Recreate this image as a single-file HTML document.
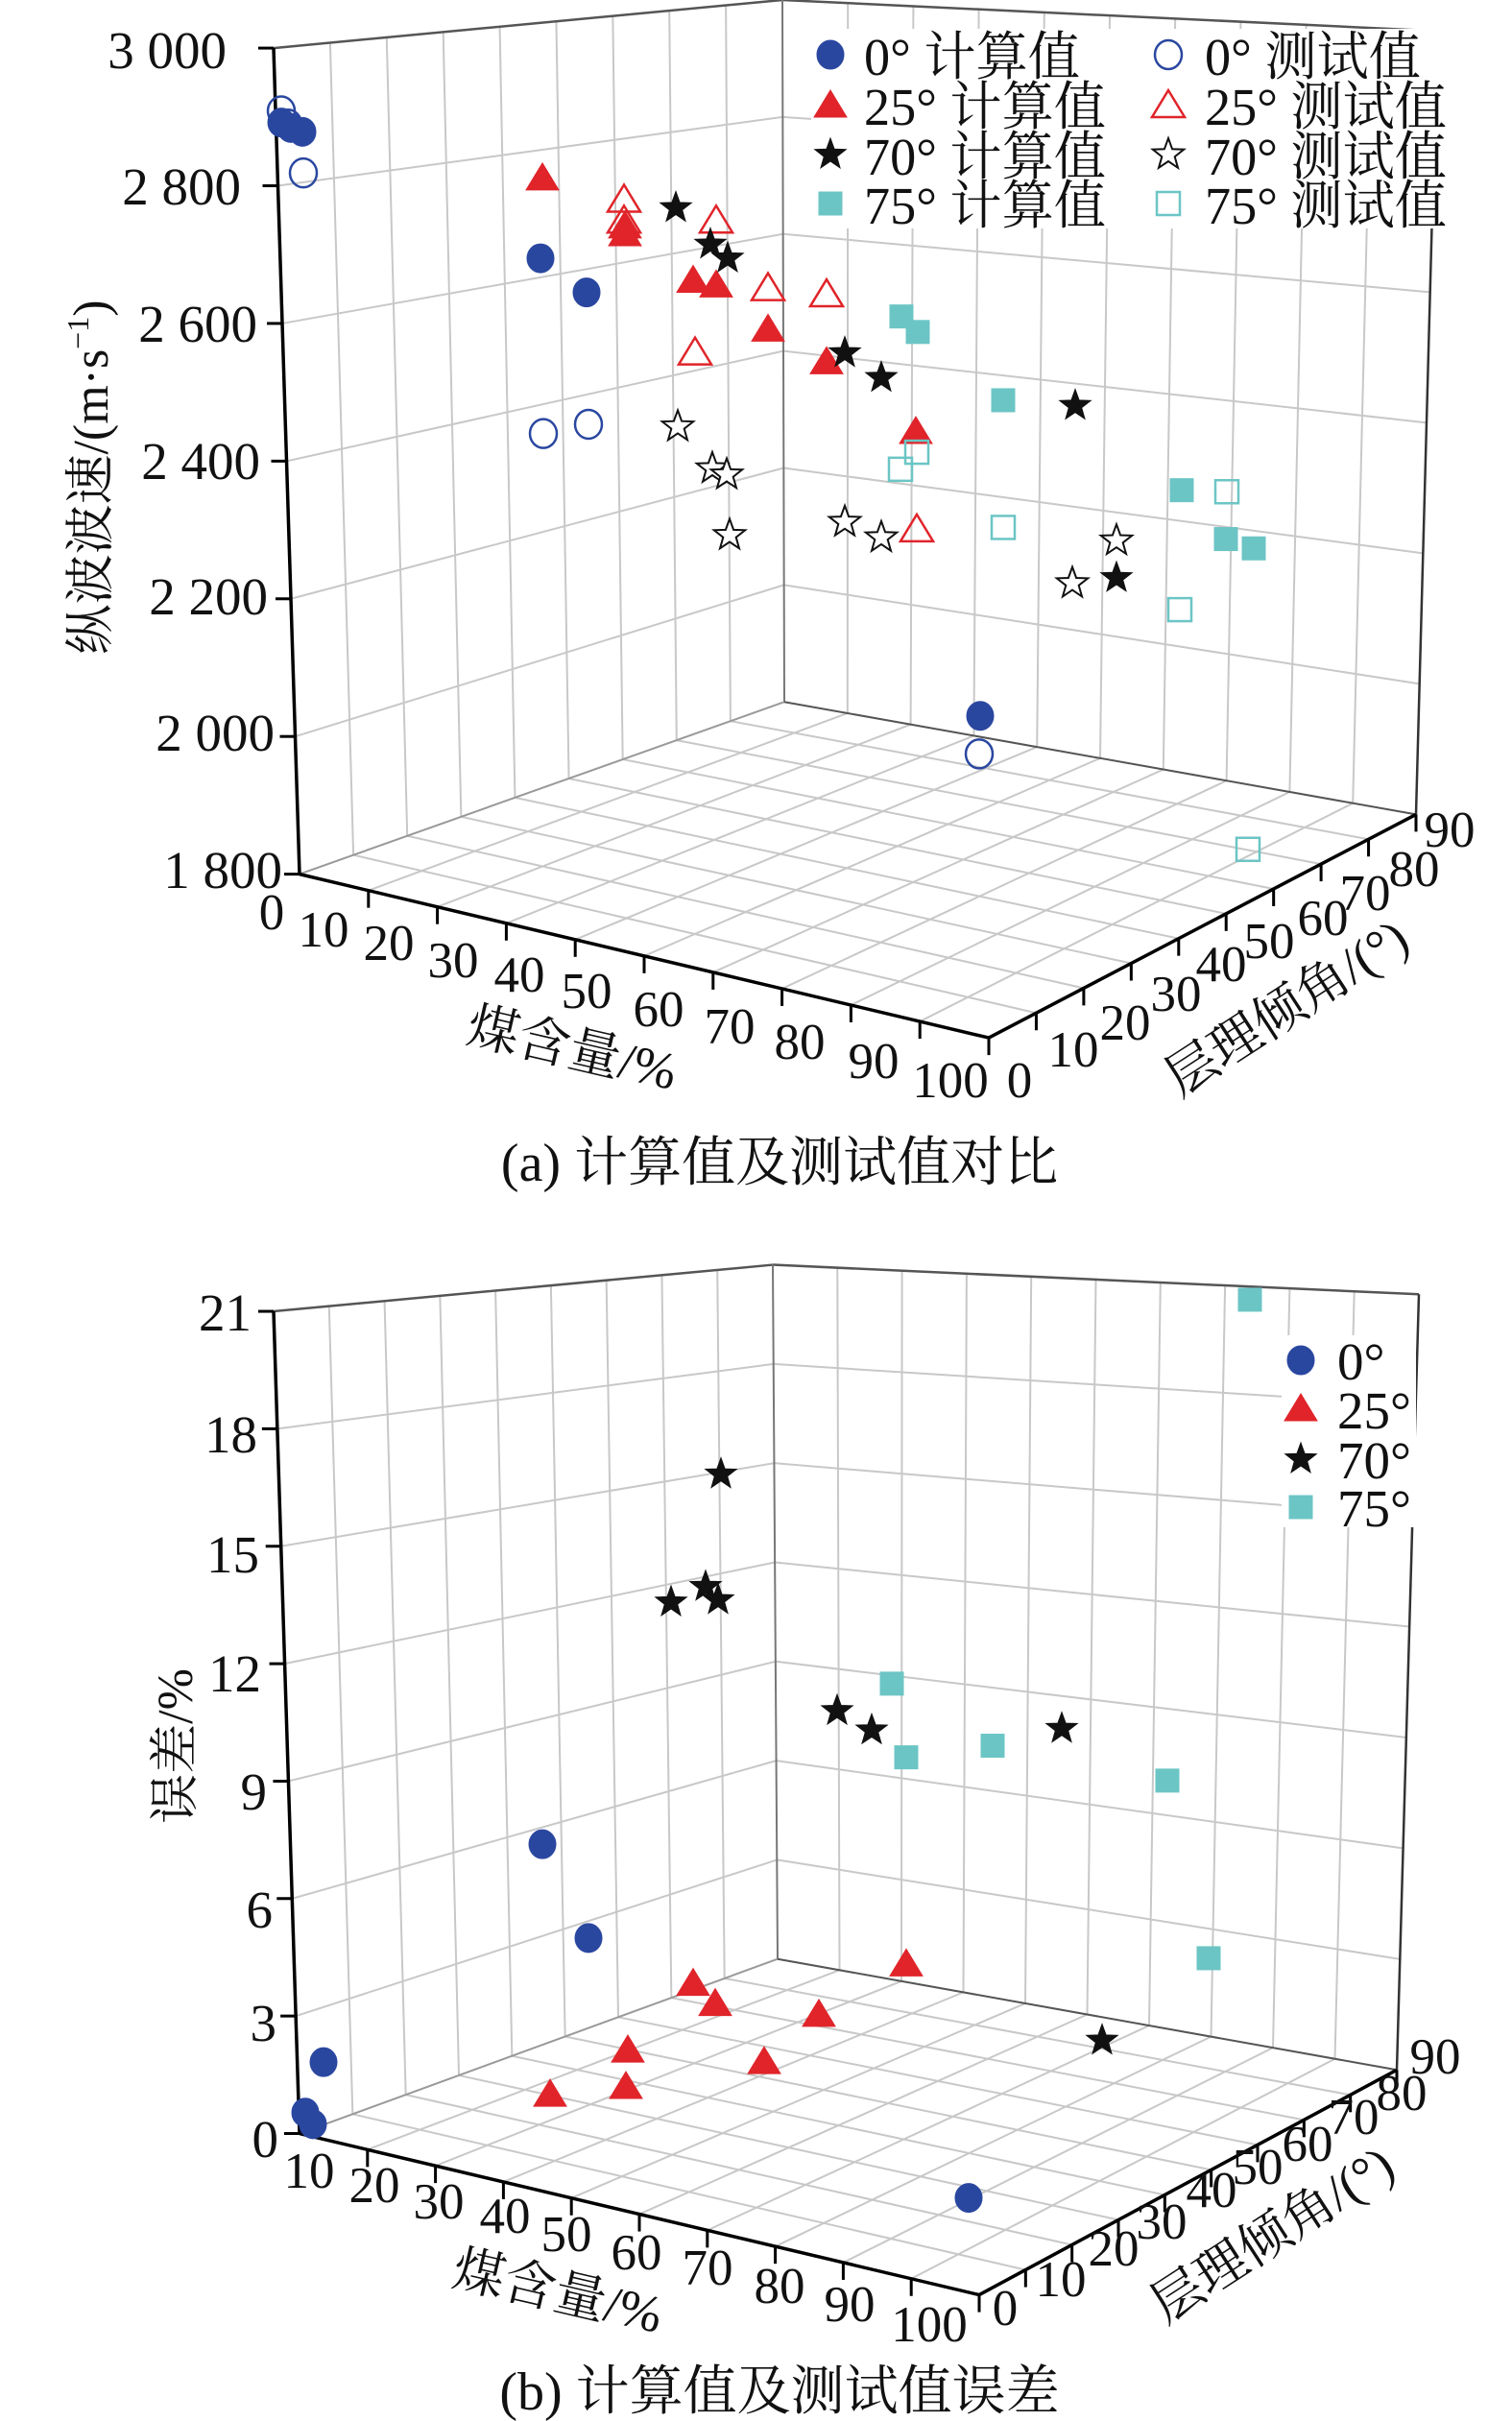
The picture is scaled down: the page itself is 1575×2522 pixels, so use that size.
<!DOCTYPE html>
<html><head><meta charset="utf-8"><style>
html,body{margin:0;padding:0;background:#fff;}
svg{display:block;}
text{font-family:"Liberation Serif","Noto Serif CJK SC","Noto Sans CJK SC",serif;fill:#111;}
</style></head><body>
<svg id="s" width="1575" height="2522" viewBox="0 0 1575 2522" xmlns="http://www.w3.org/2000/svg">
<g id="grid"></g>
<g id="marks"></g>
<!-- Chart A text -->
<g font-size="55" text-anchor="end">
<text x="236" y="71">3 000</text>
<text x="251" y="213">2 800</text>
<text x="268" y="356">2 600</text>
<text x="271" y="499">2 400</text>
<text x="279" y="640">2 200</text>
<text x="286" y="782">2 000</text>
<text x="294" y="925">1 800</text>
</g>
<g font-size="53" text-anchor="middle">
<text x="283" y="968">0</text>
<text x="337" y="986">10</text><text x="405" y="1000">20</text><text x="472" y="1018">30</text>
<text x="541" y="1033">40</text><text x="611" y="1050">50</text><text x="686" y="1069">60</text>
<text x="760" y="1087">70</text><text x="833" y="1103">80</text><text x="910" y="1123">90</text>
<text x="990" y="1143">100</text>
<text x="1062" y="1143">0</text><text x="1118" y="1111">10</text><text x="1172" y="1083">20</text>
<text x="1225" y="1053">30</text><text x="1272" y="1022">40</text><text x="1322" y="998">50</text>
<text x="1378" y="974">60</text><text x="1422" y="948">70</text><text x="1473" y="923">80</text>
<text x="1510" y="882">90</text>
</g>
<text font-size="54" text-anchor="middle" transform="translate(592,1110) rotate(13)">煤含量/%</text>
<text font-size="54" text-anchor="middle" transform="translate(1350,1065) rotate(-33)">层理倾角/(°)</text>
<text font-size="52" text-anchor="middle" transform="translate(112,497) rotate(-90)">纵波波速/(m·s<tspan font-size="32" dy="-20">−1</tspan><tspan dy="20">)</tspan></text>
<text font-size="56" text-anchor="middle" x="812" y="1230">(a) 计算值及测试值对比</text>
<!-- Chart B text -->
<g font-size="55" text-anchor="end">
<text x="262" y="1386">21</text><text x="268" y="1513">18</text><text x="270" y="1638">15</text>
<text x="272" y="1762">12</text><text x="278" y="1885">9</text><text x="284" y="2008">6</text>
<text x="288" y="2126">3</text><text x="290" y="2247">0</text>
</g>
<g font-size="53" text-anchor="middle">
<text x="322" y="2279">10</text><text x="390" y="2294">20</text><text x="457" y="2311">30</text>
<text x="526" y="2326">40</text><text x="590" y="2345">50</text><text x="663" y="2364">60</text>
<text x="737" y="2380">70</text><text x="812" y="2399">80</text><text x="885" y="2418">90</text>
<text x="968" y="2439">100</text>
<text x="1047" y="2422">0</text><text x="1105" y="2392">10</text><text x="1160" y="2360">20</text>
<text x="1210" y="2332">30</text><text x="1262" y="2299">40</text><text x="1310" y="2275">50</text>
<text x="1362" y="2251">60</text><text x="1410" y="2223">70</text><text x="1460" y="2198">80</text>
<text x="1495" y="2160">90</text>
</g>
<text font-size="54" text-anchor="middle" transform="translate(577,2405) rotate(13)">煤含量/%</text>
<text font-size="54" text-anchor="middle" transform="translate(1335,2343) rotate(-33)">层理倾角/(°)</text>
<text font-size="52" text-anchor="middle" transform="translate(200,1819) rotate(-90)">误差/%</text>
<text font-size="56" text-anchor="middle" x="812" y="2510">(b) 计算值及测试值误差</text>
</svg>
<script>
var NS="http://www.w3.org/2000/svg",K=0.808;
var G=document.getElementById('grid'),M=document.getElementById('marks');
function el(p,t,a){var e=document.createElementNS(NS,t);for(var k in a)e.setAttribute(k,a[k]);p.appendChild(e);return e;}
function L(p,a,b,c,w){el(p,'line',{x1:a[0],y1:a[1],x2:b[0],y2:b[1],stroke:c||'#c8c8c8','stroke-width':w||2});}
function lerp(a,b,t){return [a[0]+(b[0]-a[0])*t,a[1]+(b[1]-a[1])*t];}
function quadGrid(p00,p10,p01,p11,nu,nv){
 for(var i=1;i<nu;i++){var t=i/nu;L(G,lerp(p00,p10,t),lerp(p01,p11,t));}
 for(var j=1;j<nv;j++){var t=j/nv;L(G,lerp(p00,p01,t),lerp(p10,p11,t));}
}
function chart(o,ny,TL,BTop,RT,LB,BB,RB,FC){
 function s(p){return [p[0],p[1]*K+o];}
 TL=s(TL);BTop=s(BTop);RT=s(RT);LB=s(LB);BB=s(BB);RB=s(RB);FC=s(FC);
 quadGrid(LB,BB,TL,BTop,9,ny);
 quadGrid(BB,RB,BTop,RT,10,ny);
 quadGrid(LB,FC,BB,RB,10,9);
 L(G,TL,BTop,'#555',2.5);L(G,BTop,RT,'#555',2.5);L(G,BTop,BB,'#777',2);
 L(G,RT,RB,'#333',2.5);L(G,BB,LB,'#999',2);L(G,BB,RB,'#555',2);
 L(G,TL,LB,'#000',3.5);L(G,LB,FC,'#000',3.5);L(G,FC,RB,'#000',3.5);
 for(var i=1;i<=10;i++){var p=lerp(LB,FC,i/10);L(G,p,[p[0],p[1]+18],'#000',3);}
 for(var j=1;j<=9;j++){var p=lerp(FC,RB,j/9);L(G,p,[p[0],p[1]+18],'#000',3);}
 for(var k=0;k<=ny;k++){var p=lerp(LB,TL,k/ny);L(G,p,[p[0]-16,p[1]],'#000',3);}
}
chart(0,6,[285,62],[815,0],[1497,40],[312,1127],[817,905],[1475,1050],[1030,1338]);
chart(1261,7,[285,130],[805,70],[1478,108],[312,1190],[810,965],[1455,1108],[1020,1398]);
var BL='#2a47a0',RD='#e0242a',BK='#111',CY='#6cc5c5';
function circ(x,y,f){el(M,'ellipse',{cx:x,cy:y,rx:14,ry:15,fill:f?BL:'none',stroke:BL,'stroke-width':f?1:2.5});}
function tri(x,y,f){el(M,'polygon',{points:(x)+','+(y-16)+' '+(x-17)+','+(y+12)+' '+(x+17)+','+(y+12),fill:f?RD:'none',stroke:RD,'stroke-width':f?1:2.5});}
function star(x,y,f){var pts=[];for(var i=0;i<10;i++){var r=i%2?7:17,a=-Math.PI/2+i*Math.PI/5;pts.push((x+r*Math.cos(a)).toFixed(1)+','+(y+r*Math.sin(a)).toFixed(1));}
 el(M,'polygon',{points:pts.join(' '),fill:f?BK:'#fff',stroke:BK,'stroke-width':f?1:2});}
function sq(x,y,f){el(M,'rect',{x:x-12,y:y-12,width:24,height:24,fill:f?CY:'none',stroke:CY,'stroke-width':f?1:2.5});}
function A(arr,fn,f,o){arr.forEach(function(p){fn(p[0],p[1]*K+(o||0),f);});}
el(M,'rect',{x:845,y:30,width:665,height:208,fill:'#fff'});
A([[293,143],[300,160],[316,223],[566,559],[613,547],[1020,972]],circ,0);
A([[293,158],[303,165],[315,170],[563,333],[611,377],[1021,923]],circ,1);
A([[650,258],[650,285],[746,285],[724,455],[800,372],[861,380],[955,683]],tri,0);
A([[565,230],[651,292],[651,302],[722,362],[746,368],[800,425],[861,467],[954,557]],tri,1);
A([[706,550],[742,604],[757,612],[760,690],[880,673],[918,693],[1117,752],[1163,697]],star,0);
A([[704,268],[740,315],[758,333],[880,455],[918,487],[1120,523],[1163,745]],star,1);
A([[938,605],[955,583],[1045,680],[1278,634],[1229,786],[1300,1095]],sq,0);
A([[939,408],[956,428],[1045,516],[1231,632],[1277,695],[1306,707]],sq,1);
circ(865,57,1);tri(865,110,1);star(865,161,1);sq(865,212,1);
circ(1217,57,0);tri(1217,110,0);star(1217,161,0);sq(1217,212,0);
var lt=[['0° 计算值',900,78,225],['25° 计算值',900,130,252],['70° 计算值',900,182,252],['75° 计算值',900,233,252],
['0° 测试值',1255,78,225],['25° 测试值',1255,130,252],['70° 测试值',1255,182,252],['75° 测试值',1255,233,252]];
lt.forEach(function(t){var e=el(M,'text',{x:t[1],y:t[2],'font-size':55,textLength:t[3],lengthAdjust:'spacingAndGlyphs'});e.textContent=t[0];});
var o=1261;
A([[565,817],[613,938],[337,1098],[318,1163],[326,1178],[1009,1273]],circ,1,o);
A([[722,997],[745,1023],[853,1037],[944,972],[654,1083],[796,1098],[652,1130],[573,1140]],tri,1,o);
A([[751,340],[699,505],[735,485],[748,502],[872,645],[908,670],[1106,668],[1148,1070]],star,1,o);
A([[1302,115],[929,610],[944,705],[1034,690],[1216,735],[1259,964]],sq,1,o);
el(M,'rect',{x:1335,y:130+o,width:140,height:200,fill:'#fff'});
circ(1355,156+o,1);tri(1355,207+o,1);star(1355,259+o,1);sq(1355,309+o,1);
[['0°',176],['25°',227],['70°',279],['75°',329]].forEach(function(t){var e=el(M,'text',{x:1393,y:t[1]+o,'font-size':55});e.textContent=t[0];});
</script>
</body></html>
